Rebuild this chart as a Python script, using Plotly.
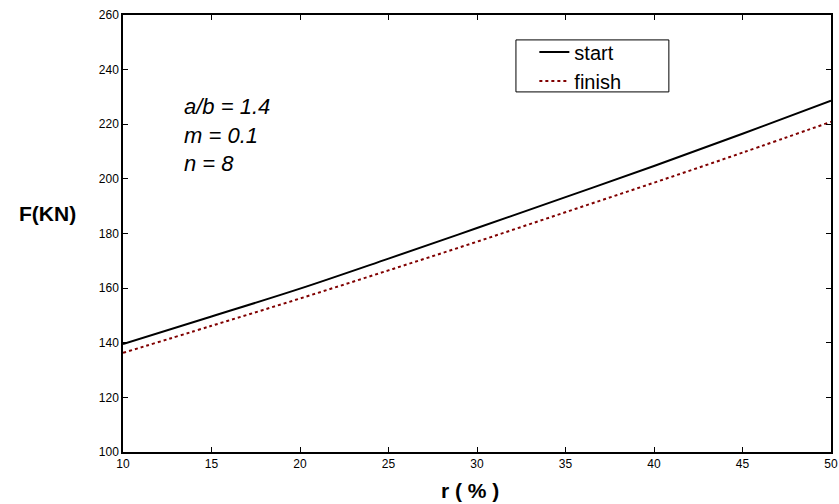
import plotly.graph_objects as go

r_values = [10, 15, 20, 25, 30, 35, 40, 45, 50]
start_F = [139.5, 149.6, 159.8, 170.8, 182.0, 193.3, 204.7, 216.5, 228.6]
finish_F = [136.3, 146.2, 156.2, 166.5, 177.0, 187.8, 198.6, 209.6, 220.9]
x_ticks = [10, 15, 20, 25, 30, 35, 40, 45, 50]
y_ticks = [100, 120, 140, 160, 180, 200, 220, 240, 260]

FONT = "Liberation Sans, Arial"

fig = go.Figure()
fig.add_trace(go.Scatter(x=r_values, y=start_F, mode="lines", name="start",
                         line=dict(color="black", width=2, shape="spline")))
fig.add_trace(go.Scatter(x=r_values, y=finish_F, mode="lines", name="finish",
                         line=dict(color="#800000", width=2, dash="dot", shape="spline")))

axis_common = dict(showgrid=False, zeroline=False, showline=True, linecolor="black",
                   linewidth=1.5, mirror="ticks", ticks="inside", ticklen=5,
                   tickcolor="black", tickwidth=1, automargin=False,
                   tickfont=dict(family=FONT, size=12, color="black"))

fig.update_layout(
    width=839, height=504,
    margin=dict(l=123, r=8, t=15, b=52),
    paper_bgcolor="white", plot_bgcolor="white",
    showlegend=True,
    legend=dict(x=0.581, y=0.96, xanchor="left", yanchor="top",
                borderwidth=0, bgcolor="rgba(0,0,0,0)",
                font=dict(family=FONT, size=20, color="black"),
                tracegroupgap=0),
    xaxis=dict(range=[10, 50], tickvals=x_ticks, **axis_common),
    yaxis=dict(range=[100, 260], tickvals=y_ticks, **axis_common),
)

# legend frame
fig.add_shape(type="rect", xref="paper", yref="paper", x0=0.555, x1=0.771,
              y0=0.824, y1=0.943, line=dict(color="black", width=1),
              fillcolor="white", layer="below")

fig.add_annotation(text="<b>r ( % )</b>", xref="paper", yref="paper", x=0.49, y=-0.087,
                   xanchor="center", yanchor="middle", showarrow=False,
                   font=dict(family=FONT, size=21, color="black"))
fig.add_annotation(text="<b>F(KN)</b>", xref="paper", yref="paper", x=-0.106, y=0.545,
                   xanchor="center", yanchor="middle", showarrow=False,
                   font=dict(family=FONT, size=21, color="black"))
fig.add_annotation(text="<i>a/b = 1.4<br>m = 0.1<br>n = 8</i>", xref="paper", yref="paper",
                   x=0.083, y=0.725, xanchor="left", yanchor="middle", align="left",
                   showarrow=False,
                   font=dict(family=FONT, size=22, color="black"))

fig.write_html("out.html", config={"displayModeBar": False},
               post_script="document.body.style.margin='0';document.body.style.overflow='hidden';")
